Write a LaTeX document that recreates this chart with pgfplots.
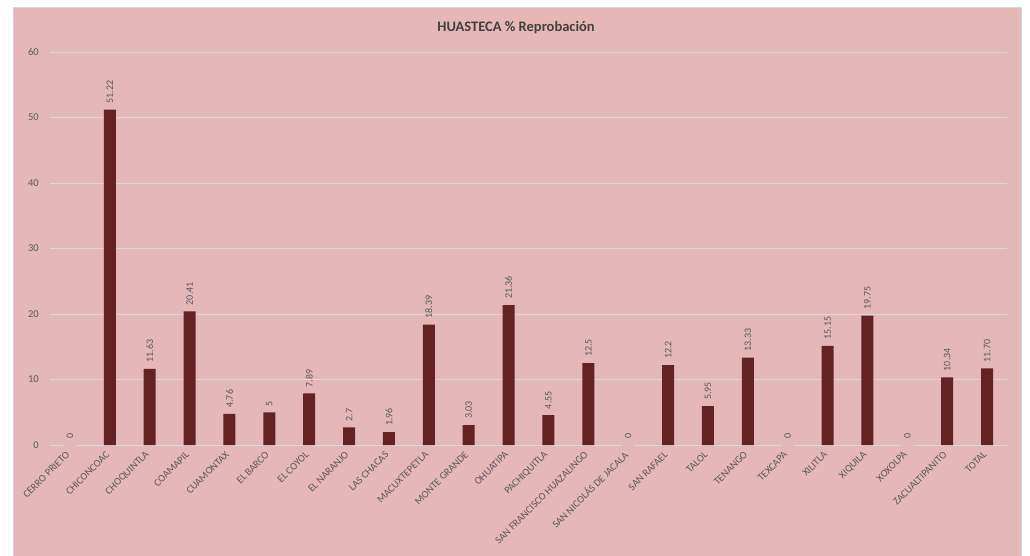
\documentclass[border=0pt]{standalone}
\usepackage{pgfplots}
\pgfplotsset{compat=1.18}
\usepackage{pgfplotstable}
\usepackage{fontspec}
\setmainfont{Carlito}
\definecolor{bgpink}{RGB}{230,183,183}
\definecolor{barred}{RGB}{99,35,35}
\definecolor{gridgray}{RGB}{217,217,217}
\definecolor{txtgray}{RGB}{89,89,89}
\definecolor{titlegray}{RGB}{64,64,64}
\definecolor{edgegray}{RGB}{205,215,220}

\pgfplotstableread[col sep=comma]{
x,v,lab
0,0,0
1,51.22,51.22
2,11.63,11.63
3,20.41,20.41
4,4.76,4.76
5,5,5
6,7.89,7.89
7,2.7,2.7
8,1.96,1.96
9,18.39,18.39
10,3.03,3.03
11,21.36,21.36
12,4.55,4.55
13,12.5,12.5
14,0,0
15,12.2,12.2
16,5.95,5.95
17,13.33,13.33
18,0,0
19,15.15,15.15
20,19.75,19.75
21,0,0
22,10.34,10.34
23,11.70,11.70
}\datatable

\begin{document}
\begin{tikzpicture}[x=1pt,y=1pt]
\useasboundingbox (0,0) rectangle (1030,555);
\fill[white] (0,0) rectangle (1030,555);
\fill[bgpink] (13,-2) rectangle (1021,548);
\draw[edgegray,line width=0.8pt] (13,-2) -- (13,548) -- (1021,548) -- (1021,-2);
\node[font=\fontsize{14.5}{16}\selectfont\bfseries,text=titlegray] at (516,527) {HUASTECA \% Reprobación};
\begin{axis}[
  at={(50pt,110pt)}, anchor=south west,
  scale only axis, width=957pt, height=393pt,
  xmin=-0.5, xmax=23.5, ymin=0, ymax=60,
  ytick={0,10,...,60},
  xtick={0,1,...,23},
  xticklabels={CERRO PRIETO,CHICONCOAC,CHOQUINTLA,COAMAPIL,CUAMONTAX,EL BARCO,EL COYOL,EL NARANJO,LAS CHACAS,MACUXTEPETLA,MONTE GRANDE,OHUATIPA,PACHIQUITLA,SAN FRANCISCO HUAZALINGO,SAN NICOLÁS DE JACALA,SAN RAFAEL,TALOL,TENANGO,TEXCAPA,XILITLA,XIQUILA,XOXOLPA,ZACUALTIPANITO,TOTAL},
  /pgf/number format/assume math mode=true,
  axis line style={draw=none},
  major tick length=0pt,
  ymajorgrids, grid style={gridgray, line width=0.8pt},
  yticklabel style={font=\fontsize{10.5}{12}\selectfont, text=txtgray, anchor=east, inner sep=0pt, xshift=-11pt},
  xticklabel style={font=\fontsize{10.3}{12}\selectfont, text=txtgray, yshift=-8pt, xshift=-2pt, rotate=45, anchor=east, inner sep=0pt},
  ybar, bar width=12pt,
  nodes near coords,
  point meta=explicit symbolic,
  every node near coord/.append style={font=\fontsize{10}{12}\selectfont, text=txtgray, rotate=90, anchor=west, inner xsep=6pt, inner ysep=0pt},
  clip=false,
]
\addplot[fill=barred, draw=none] table[x=x, y=v, meta=lab] {\datatable};
\end{axis}
\end{tikzpicture}
\end{document}
